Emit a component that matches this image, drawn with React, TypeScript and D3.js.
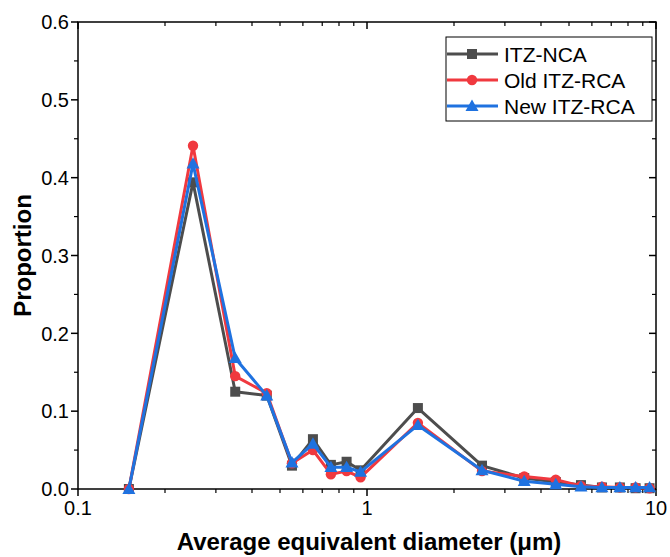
import React from "react";
import * as d3 from "d3";

const diameters = [0.15, 0.25, 0.35, 0.45, 0.55, 0.65, 0.75, 0.85, 0.95, 1.5, 2.5, 3.5, 4.5, 5.5, 6.5, 7.5, 8.5, 9.5];
const itzNCA = [0, 0.394, 0.125, 0.12, 0.03, 0.064, 0.031, 0.035, 0.024, 0.104, 0.03, 0.014, 0.009, 0.005, 0.002, 0.002, 0.001, 0.001];
const oldItzRCA = [0, 0.441, 0.145, 0.123, 0.033, 0.05, 0.019, 0.023, 0.015, 0.085, 0.023, 0.016, 0.012, 0.004, 0.003, 0.002, 0.002, 0.001];
const newItzRCA = [0, 0.418, 0.168, 0.12, 0.034, 0.058, 0.028, 0.028, 0.022, 0.082, 0.024, 0.01, 0.006, 0.003, 0.002, 0.002, 0.002, 0.002];
const seriesNames = ["ITZ-NCA", "Old ITZ-RCA", "New ITZ-RCA"];
const seriesColors = ["#4d4d4d", "#f0393f", "#1f72e0"];
const seriesMarkers = ["square", "circle", "triangle"];
const xTickLabels = ["0.1", "1", "10"];
const yTicks = [0, 0.1, 0.2, 0.3, 0.4, 0.5, 0.6];

const W = 670, H = 557;
const L = 78, R = 656, T = 22, B = 489;
const FONT = "'Liberation Sans', Arial, sans-serif";

function Marker({ type, x, y, color }: { type: string; x: number; y: number; color: string }) {
  if (type === "square") return <rect x={x - 5} y={y - 5} width={10} height={10} fill={color} />;
  if (type === "circle") return <circle cx={x} cy={y} r={5.2} fill={color} />;
  const s = 6.5;
  return <path d={`M${x},${y - s}L${x + s},${y + s * 0.75}L${x - s},${y + s * 0.75}Z`} fill={color} />;
}

export default function App() {
  const x = d3.scaleLog().domain([0.1, 10]).range([L, R]);
  const y = d3.scaleLinear().domain([0, 0.6]).range([B, T]);
  const data = [itzNCA, oldItzRCA, newItzRCA];
  const line = d3.line<number>().x((_, i) => x(diameters[i])).y((d) => y(d));

  const minorX: number[] = [];
  [0.1, 1].forEach((dec) => {
    for (let k = 2; k <= 9; k++) minorX.push(dec * k);
  });
  const minorY = d3.range(0.05, 0.6, 0.1);

  return (
    <svg width={W} height={H} style={{ position: "absolute", left: 0, top: 0 }} fontFamily={FONT}>
      <rect width={W} height={H} fill="white" />
      <rect x={L} y={T} width={R - L} height={B - T} fill="none" stroke="#000" strokeWidth={1.5} />
      {[0.1, 1, 10].map((v) => (
        <g key={"mx" + v}>
          <line x1={x(v)} x2={x(v)} y1={B} y2={B + 7} stroke="#000" strokeWidth={1.5} />
          <line x1={x(v)} x2={x(v)} y1={T} y2={T + 7} stroke="#000" strokeWidth={1.5} />
        </g>
      ))}
      {minorX.map((v) => (
        <g key={"nx" + v}>
          <line x1={x(v)} x2={x(v)} y1={B} y2={B + 4} stroke="#000" strokeWidth={1.2} />
          <line x1={x(v)} x2={x(v)} y1={T} y2={T + 4} stroke="#000" strokeWidth={1.2} />
        </g>
      ))}
      {yTicks.map((v) => (
        <g key={"my" + v}>
          <line x1={L - 7} x2={L} y1={y(v)} y2={y(v)} stroke="#000" strokeWidth={1.5} />
          <line x1={R - 7} x2={R} y1={y(v)} y2={y(v)} stroke="#000" strokeWidth={1.5} />
          <text x={L - 9} y={y(v)} dy="0.36em" textAnchor="end" fontSize={20} fill="#000">
            {v.toFixed(1)}
          </text>
        </g>
      ))}
      {minorY.map((v) => (
        <g key={"ny" + v}>
          <line x1={L - 4} x2={L} y1={y(v)} y2={y(v)} stroke="#000" strokeWidth={1.2} />
          <line x1={R - 4} x2={R} y1={y(v)} y2={y(v)} stroke="#000" strokeWidth={1.2} />
        </g>
      ))}
      {[0.1, 1, 10].map((v, i) => (
        <text key={"xl" + v} x={x(v)} y={B + 26} textAnchor="middle" fontSize={20} fill="#000">
          {xTickLabels[i]}
        </text>
      ))}
      <text x={369} y={550} textAnchor="middle" fontSize={24} fontWeight="bold" fill="#000">
        Average equivalent diameter (μm)
      </text>
      <text transform={`translate(31,${(T + B) / 2}) rotate(-90)`} textAnchor="middle" fontSize={24} fontWeight="bold" fill="#000">
        Proportion
      </text>
      {data.map((s, si) => (
        <g key={"s" + si}>
          <path d={line(s) || ""} fill="none" stroke={seriesColors[si]} strokeWidth={3} strokeLinejoin="round" />
          {s.map((v, i) => (
            <Marker key={i} type={seriesMarkers[si]} x={x(diameters[i])} y={y(v)} color={seriesColors[si]} />
          ))}
        </g>
      ))}
      <rect x={446} y={37} width={206} height={84} fill="white" stroke="#000" strokeWidth={1} />
      {seriesNames.map((n, i) => {
        const ly = 54 + i * 26;
        return (
          <g key={"lg" + i}>
            <line x1={447} x2={498} y1={ly} y2={ly} stroke={seriesColors[i]} strokeWidth={3} />
            <Marker type={seriesMarkers[i]} x={472} y={ly} color={seriesColors[i]} />
            <text x={504} y={ly} dy="0.36em" fontSize={21} fill="#000">
              {n}
            </text>
          </g>
        );
      })}
    </svg>
  );
}
